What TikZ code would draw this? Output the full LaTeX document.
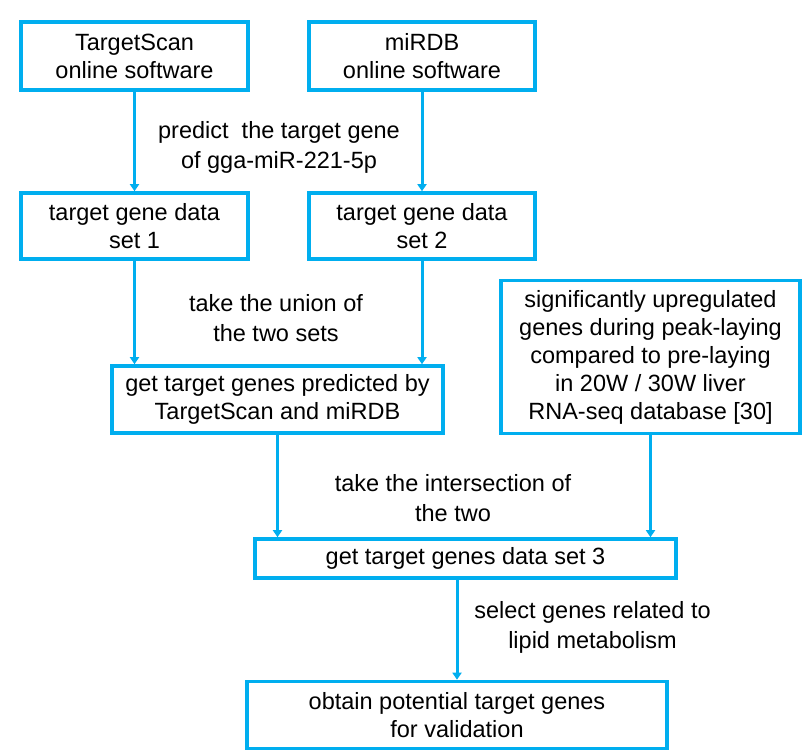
\documentclass[tikz,border=0pt]{standalone}
\usepackage{fontspec}
\setmainfont{Liberation Sans}
\usetikzlibrary{arrows.meta}
\definecolor{flowblue}{RGB}{0,174,239}
\begin{document}
\begin{tikzpicture}[x=1pt,y=-1pt,
  box/.style={draw=flowblue,line width=3.6pt,rectangle,inner sep=0pt,align=center,
    font=\fontsize{23.5}{28}\selectfont,text=black},
  lbl/.style={align=center,inner sep=0pt,font=\fontsize{23.5}{30}\selectfont,text=black},
  arr/.style={draw=flowblue,line width=3pt,-{Triangle[width=9pt,length=7pt]}}]
\useasboundingbox (0,0) rectangle (802,755);
\node[box,minimum width=227pt,minimum height=68pt] (ts) at (134.5,56) {TargetScan\\online software};
\node[box,minimum width=226pt,minimum height=68pt] (mi) at (422,56) {miRDB\\online software};
\node[box,minimum width=227pt,minimum height=66pt] (s1) at (134.5,226) {target gene data\\set 1};
\node[box,minimum width=226pt,minimum height=66pt] (s2) at (422,226) {target gene data\\set 2};
\node[box,minimum width=331pt,minimum height=67pt] (un) at (277.5,399.5) {get target genes predicted by\\TargetScan and miRDB};
\node[box,minimum width=299pt,minimum height=153pt] (rna) at (650.5,357) {significantly upregulated\\genes during peak-laying\\compared to pre-laying\\in 20W / 30W liver\\RNA-seq database [30]};
\node[box,minimum width=421pt,minimum height=39pt] (s3) at (465.5,558.5) {get target genes data set 3};
\node[box,minimum width=420pt,minimum height=67pt] (fin) at (457,715) {obtain potential target genes\\for validation};

\node[lbl] (l1) at (279,147) {predict\ \ the target gene\\of gga-miR-221-5p};
\node[lbl] (l2) at (276,318) {take the union of\\the two sets};
\node[lbl] (l3) at (453,498.5) {take the intersection of\\the two};
\node[lbl] (l4) at (592.5,627.5) {select genes related to\\lipid metabolism};

\draw[arr] (ts.south) -- (s1.north);
\draw[arr] (mi.south) -- (s2.north);
\draw[arr] (s1.south) -- (s1.south |- un.north);
\draw[arr] (s2.south) -- (s2.south |- un.north);
\draw[arr] (un.south) -- (un.south |- s3.north);
\draw[arr] (rna.south) -- (rna.south |- s3.north);
\draw[arr] (fin.north |- s3.south) -- (fin.north);
\end{tikzpicture}
\end{document}
